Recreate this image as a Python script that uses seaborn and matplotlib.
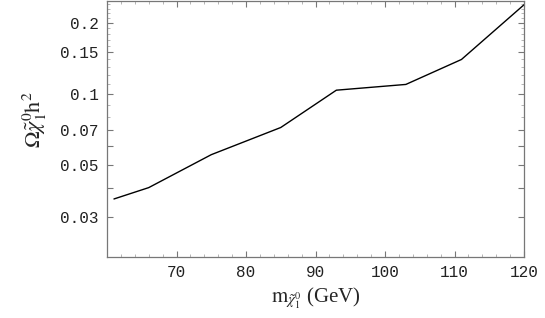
import matplotlib
matplotlib.use("Agg")
import matplotlib.pyplot as plt
import matplotlib.ticker as mticker
import seaborn as sns
import pandas as pd

# neutralino mass (GeV) vs relic density
massa = [61, 66, 75, 85, 93, 103, 111, 120]
omega = [0.0358, 0.0400, 0.0552, 0.0720, 0.1037, 0.1097, 0.1400, 0.239]

ytick_vals = [0.03, 0.05, 0.07, 0.1, 0.15, 0.2]
ytick_labels = ["0.03", "0.05", "0.07", "0.1", "0.15", "0.2"]
xtick_vals = [70, 80, 90, 100, 110, 120]

df = pd.DataFrame({"m": massa, "omega": omega})

sns.set_style("white")
plt.rcParams["mathtext.fontset"] = "stix"

fig, ax = plt.subplots(figsize=(5.45, 3.18), dpi=100)
fig.subplots_adjust(left=107/545, right=524/545, top=1 - 1/318, bottom=1 - 257/318)

sns.lineplot(data=df, x="m", y="omega", ax=ax, color="black", linewidth=1.0)

ax.set_yscale("log")
ax.set_xlim(60, 120)
ax.set_ylim(0.0203, 0.248)

# ticks
ax.yaxis.set_major_locator(mticker.FixedLocator(ytick_vals + [0.04, 0.06]))
ax.yaxis.set_major_formatter(mticker.FixedFormatter(ytick_labels + ["", ""]))
ax.yaxis.set_minor_locator(mticker.FixedLocator(
    [0.08, 0.09] + [0.11 + 0.01 * i for i in range(9)] + [0.21, 0.22, 0.23, 0.24]))
ax.yaxis.set_minor_formatter(mticker.NullFormatter())
ax.xaxis.set_major_locator(mticker.FixedLocator(xtick_vals))
ax.xaxis.set_minor_locator(mticker.MultipleLocator(2))

ax.tick_params(which="both", direction="in", colors="#777777", labelcolor="#222222",
               left=True, right=True, bottom=True, top=True)
ax.tick_params(which="major", length=4, width=0.8)
ax.tick_params(which="minor", length=2, width=0.6, colors="#aaaaaa")
ax.tick_params(axis="both", labelsize=11.5, pad=6)
for lab in ax.get_xticklabels() + ax.get_yticklabels():
    lab.set_fontfamily("Liberation Mono")

for sp in ax.spines.values():
    sp.set_color("#777777")
    sp.set_linewidth(0.9)

ax.set_xlabel(r"$\mathrm{m}_{\tilde{\chi}^0_1}$ (GeV)", fontfamily="Liberation Serif",
              fontsize=15, labelpad=4)
ax.set_ylabel(r"$\Omega\tilde{\chi}^0_1\mathrm{h}^2$", fontsize=16)
ax.yaxis.set_label_coords(-0.14, 0.535)

plt.savefig("out.png", dpi=100)
